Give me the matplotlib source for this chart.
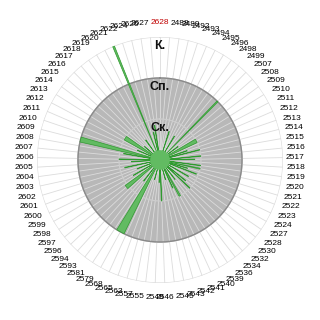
import numpy as np
import matplotlib
matplotlib.use('Agg')
import matplotlib.pyplot as plt

plt.rcParams['font.family'] = ['Liberation Sans', 'DejaVu Sans']

# categories, clockwise from the top
categories = ['2628', '2488', '2489', '2492', '2493', '2494', '2495', '2496', '2498', '2499',
              '2507', '2508', '2509', '2510', '2511', '2512', '2513', '2514', '2515', '2516',
              '2517', '2518', '2519', '2520', '2521', '2522', '2523', '2524', '2527', '2528',
              '2530', '2532', '2534', '2536', '2539', '2540', '2541', '2542', '2543', '2545',
              '2546', '2548', '2555', '2557', '2563', '2565', '2568', '2579', '2581', '2593',
              '2594', '2596', '2597', '2598', '2599', '2600', '2601', '2602', '2603', '2604',
              '2605', '2606', '2607', '2608', '2609', '2610', '2611', '2612', '2613', '2614',
              '2615', '2616', '2617', '2618', '2619', '2620', '2621', '2622', '2624', '2626',
              '2627']
highlight = ['2628']

# ring levels
ring_levels = [1, 2, 3]
ring_names = ['Ск.', 'Сп.', 'К.']
fill_level = 2

# green bars: value and width (in category steps)
green_values = [0, 0, 0, 0, 0.73, 0, 0, 0.68, 0, 0,
                2.0, 0, 0.55, 0, 1.0, 0, 0.7, 1.0, 0, 1.0,
                0.85, 0, 1.0, 1.0, 0.7, 0.95, 0, 0.8, 0, 0.8,
                1.0, 0, 0.6, 0, 1.0, 0.75, 0, 0.5, 0, 0,
                1.0, 0.55, 0, 0, 0.5, 0, 0, 2.0, 0, 0.65,
                0, 0, 1.05, 0, 0.75, 0, 0.6, 0, 0.88, 0,
                0.7, 1.0, 0, 0.9, 2.0, 0, 0.6, 0, 1.0, 0,
                0.5, 0, 0, 0.6, 0, 0, 3.0, 0, 0.7, 0.86,
                0]
green_widths = [0, 0, 0, 0, 0.2, 0, 0, 0.2, 0, 0,
                0.2, 0, 0.2, 0, 1.2, 0, 0.2, 0.2, 0, 0.2,
                0.2, 0, 0.2, 0.3, 0.2, 0.2, 0, 0.2, 0, 0.2,
                0.2, 0, 0.2, 0, 0.5, 0.2, 0, 0.2, 0, 0,
                0.2, 0.2, 0, 0, 0.2, 0, 0, 1.3, 0, 0.2,
                0, 0, 1.2, 0, 0.2, 0, 0.2, 0, 0.2, 0,
                0.2, 0.2, 0, 0.2, 0.8, 0, 0.2, 0, 1.3, 0,
                0.2, 0, 0, 0.2, 0, 0, 0.2, 0, 0.2, 0.2,
                0]
hub_radius = 0.24

n = len(categories)
step = 2 * np.pi / n
theta = np.arange(n) * step

fig = plt.figure(figsize=(3.2, 3.2), dpi=100, facecolor='white')
ax = fig.add_axes([37 / 320, 37 / 320, 246 / 320, 246 / 320], projection='polar')
ax.set_theta_zero_location('N')
ax.set_theta_direction(-1)
ax.set_ylim(0, ring_levels[-1])
ax.grid(False)
ax.set_xticks([])
ax.set_yticks([])
ax.spines['polar'].set_visible(False)

# gray disc
circ = np.linspace(0, 2 * np.pi, 400)
ax.fill(circ, np.full_like(circ, fill_level), color='#b8b8b8', zorder=1)

# radial lines
for t in theta:
    ax.plot([t, t], [0, ring_levels[-1]], color='#dcdcdc', lw=0.6, zorder=2)

ax.plot(circ, np.full_like(circ, ring_levels[0]), color='#cdcdcd', lw=0.9, zorder=2)
ax.plot(circ, np.full_like(circ, fill_level), color='#8a8a8a', lw=1.0, zorder=2)
ax.plot(circ, np.full_like(circ, ring_levels[-1]), color='#dcdcdc', lw=0.9, zorder=2)

# green bars
w = np.array(green_widths) * step
ax.bar(theta, green_values, width=w, bottom=0, color='#62bb62',
       edgecolor='#2f9a2f', linewidth=0.5, zorder=3)
ax.bar(0, hub_radius, width=2 * np.pi, bottom=0, color='#62bb62',
       edgecolor='none', zorder=3)

# ring names
for lvl, name in zip(ring_levels, ring_names):
    ax.text(0, lvl - 0.21, name, ha='center', va='center', fontsize=9,
            fontweight='bold', color='#111111', zorder=5)

# category labels
for t, lab in zip(theta, categories):
    s, c = np.sin(t), np.cos(t)
    if s > 0.05:
        ha = 'left'
    elif s < -0.05:
        ha = 'right'
    else:
        ha = 'center'
    r = 3.07 + 0.28 * abs(c)
    col = '#c00000' if lab in highlight else 'black'
    ax.text(t, r, lab, ha=ha, va='center', fontsize=6, color=col,
            clip_on=False, zorder=5)

fig.savefig('out.png', dpi=100, facecolor='white')
